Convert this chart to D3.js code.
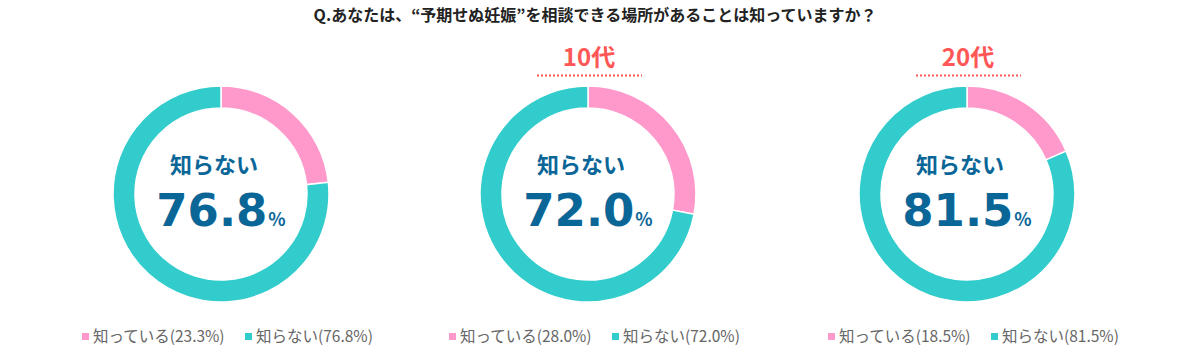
<!DOCTYPE html>
<html>
<head>
<meta charset="utf-8">
<script src="https://cdn.jsdelivr.net/npm/d3@7"></script>
<style>
  body { margin: 0; background: #fff; }
  svg { display: block; }
  text { font-family: "Noto Sans CJK JP", "Noto Sans", sans-serif; }
</style>
</head>
<body>
<div id="chart"></div>
<script>
// values
const groups = ['', '10代', '20代'];
const knowPct = [23.3, 28.0, 18.5];
const dontKnowPct = [76.8, 72.0, 81.5];
const seriesNames = ['知っている', '知らない'];
const titleText = 'Q.あなたは、“予期せぬ妊娠”を相談できる場所があることは知っていますか？';

const W = 1189, H = 364;
const PINK = '#ff99cc', TEAL = '#33cccc', BLUE = '#0b6698', RED = '#ff5656';

const svg = d3.select('#chart').append('svg')
  .attr('width', W).attr('height', H);

svg.append('text')
  .attr('x', 595).attr('y', 21)
  .attr('text-anchor', 'middle')
  .attr('font-size', 16).attr('font-weight', 'bold').attr('fill', '#222')
  .text(titleText);

// donut centres are not quite evenly spaced in the source
const x = d3.scaleOrdinal().domain(d3.range(groups.length)).range([221, 588, 967]);
const pie = d3.pie().sort(null).value(d => d);
const arc = d3.arc().innerRadius(86).outerRadius(108);
const cy = 194;

groups.forEach((g, i) => {
  const cx = x(i);
  const gg = svg.append('g').attr('transform', `translate(${cx},${cy})`);

  gg.selectAll('path')
    .data(pie([knowPct[i], dontKnowPct[i]]))
    .join('path')
    .attr('d', arc)
    .attr('fill', (d, j) => j === 0 ? PINK : TEAL)
    .attr('stroke', '#fff')
    .attr('stroke-width', 1.5);

  gg.append('text')
    .attr('x', -7).attr('y', -21)
    .attr('text-anchor', 'middle')
    .attr('font-size', 22).attr('font-weight', 'bold').attr('fill', BLUE)
    .text(seriesNames[1]);

  const num = gg.append('text')
    .attr('x', 0).attr('y', 32)
    .attr('text-anchor', 'middle')
    .attr('fill', BLUE).attr('font-weight', 'bold');
  num.append('tspan')
    .style('font-family', '"DejaVu Sans", Verdana, sans-serif')
    .attr('font-size', 45)
    .text(dontKnowPct[i].toFixed(1));
  num.append('tspan')
    .attr('font-size', 18)
    .attr('dx', 1)
    .text('%');

  if (g) {
    svg.append('text')
      .attr('x', cx + 1).attr('y', 66)
      .attr('text-anchor', 'middle')
      .attr('font-size', 24).attr('font-weight', 'bold').attr('fill', RED)
      .text(g);
    svg.append('line')
      .attr('x1', cx - 51).attr('x2', cx + 54)
      .attr('y1', 75.5).attr('y2', 75.5)
      .attr('stroke', RED).attr('stroke-width', 2)
      .attr('stroke-dasharray', '2,2');
  }

  // legend
  const lg = svg.append('g').attr('transform', `translate(${cx - 139},336)`);
  const items = [
    { label: `${seriesNames[0]}(${knowPct[i].toFixed(1)}%)`, color: PINK, dx: 0 },
    { label: `${seriesNames[1]}(${dontKnowPct[i].toFixed(1)}%)`, color: TEAL, dx: 163 }
  ];
  items.forEach(it => {
    lg.append('rect')
      .attr('x', it.dx).attr('y', -3)
      .attr('width', 7).attr('height', 7)
      .attr('fill', it.color);
    lg.append('text')
      .attr('x', it.dx + 11).attr('y', 6)
      .attr('font-size', 15.5).attr('fill', '#666')
      .text(it.label);
  });
});
</script>
</body>
</html>
